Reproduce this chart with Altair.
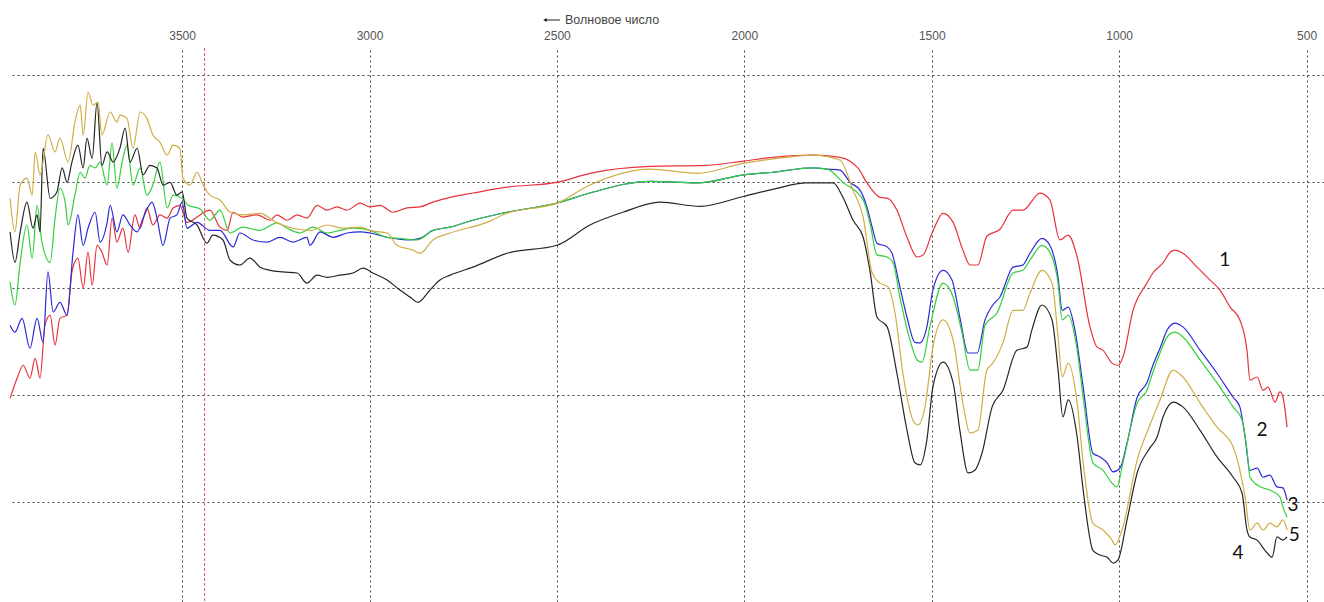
import altair as alt
import pandas as pd

# IR spectra of five samples: wavenumber (cm-1) and transmittance (arb. units)
wn_1 = [3959, 3940, 3924, 3906, 3892, 3879, 3866, 3852, 3839, 3826, 3807, 3794, 3778, 3764, 3751, 3740, 3727, 3714, 3700, 3687,
        3674, 3658, 3644, 3626, 3612, 3594, 3578, 3559, 3540, 3524, 3506, 3487, 3460, 3442, 3426, 3399, 3380, 3364, 3338, 3300,
        3265, 3247, 3220, 3193, 3167, 3140, 3113, 3087, 3060, 3025, 2999, 2972, 2937, 2900, 2865, 2831, 2785, 2724, 2633, 2500,
        2412, 2252, 2100, 2001, 1924, 1817, 1745, 1697, 1673, 1638, 1617, 1593, 1566, 1539, 1523, 1499, 1470, 1443, 1417, 1398,
        1377, 1353, 1318, 1283, 1257, 1211, 1185, 1158, 1136, 1112, 1078, 1059, 1043, 1019, 1003, 990, 963, 926, 910, 883,
        864, 851, 830, 792, 758, 731, 704, 678, 659, 651, 632, 616, 603, 584, 571, 563, 552]
t_1 = [39.4, 43.2, 45.6, 43.2, 46.9, 43.2, 53.1, 55.0, 49.4, 54.4, 55.0, 63.1, 65.7, 60.1, 66.8, 60.6, 68.1, 66.8, 64.4, 73.2,
       68.7, 71.3, 66.8, 73.8, 71.3, 75.1, 71.9, 73.8, 73.2, 75.1, 75.6, 72.4, 73.4, 74.3, 74.7, 71.5, 70.9, 74.3, 73.4, 73.8,
       72.8, 73.8, 72.8, 73.8, 73.2, 75.6, 74.7, 75.3, 74.7, 76.0, 75.3, 75.6, 74.3, 75.1, 75.3, 76.2, 77.1, 77.9, 79.0, 79.9,
       81.6, 82.9, 83.1, 83.9, 84.6, 85.0, 84.6, 82.6, 79.8, 77.1, 76.9, 74.7, 69.6, 65.9, 66.3, 70.4, 74.1, 72.4, 67.2, 64.4,
       64.4, 69.8, 71.1, 74.7, 74.7, 77.9, 76.6, 69.1, 70.0, 65.9, 52.8, 49.0, 48.4, 46.0, 45.6, 47.1, 55.9, 61.0, 62.9, 64.8,
       66.8, 67.2, 66.6, 64.0, 61.6, 59.7, 56.5, 54.1, 48.4, 42.8, 43.4, 40.9, 41.5, 38.7, 40.6, 39.6, 34.0]

wn_2 = [3959, 3946, 3927, 3906, 3887, 3871, 3858, 3844, 3826, 3807, 3791, 3778, 3764, 3751, 3732, 3719, 3700, 3692, 3674, 3658,
        3639, 3620, 3604, 3580, 3567, 3551, 3532, 3514, 3500, 3487, 3460, 3426, 3399, 3364, 3346, 3311, 3273, 3239, 3204, 3167,
        3159, 3132, 3097, 3060, 3025, 2999, 2953, 2900, 2865, 2831, 2785, 2724, 2633, 2500, 2412, 2252, 2126, 2001, 1924, 1817,
        1779, 1745, 1718, 1691, 1673, 1659, 1646, 1619, 1606, 1585, 1566, 1545, 1531, 1513, 1497, 1470, 1446, 1425, 1403, 1379,
        1358, 1337, 1318, 1283, 1257, 1238, 1206, 1185, 1163, 1152, 1136, 1118, 1096, 1070, 1051, 1032, 1016, 998, 979, 952,
        926, 910, 891, 872, 851, 830, 784, 739, 696, 678, 664, 651, 632, 616, 598, 579, 563, 552]
t_2 = [53.1, 51.8, 54.4, 48.8, 54.4, 49.9, 63.1, 55.6, 57.4, 55.0, 66.8, 73.8, 68.1, 71.3, 74.3, 68.7, 72.4, 75.6, 70.6, 73.8,
       71.9, 70.6, 73.2, 76.2, 73.2, 68.1, 73.2, 73.8, 76.2, 71.3, 72.4, 70.9, 70.9, 67.8, 70.4, 69.1, 68.7, 69.6, 68.7, 69.6,
       68.1, 70.6, 69.6, 70.4, 70.6, 70.4, 69.6, 69.1, 69.4, 70.9, 71.5, 72.8, 74.3, 76.0, 77.9, 80.1, 79.8, 81.3, 81.8, 82.6,
       82.4, 82.2, 79.9, 78.4, 75.3, 71.5, 68.5, 67.8, 66.6, 60.3, 54.6, 49.9, 49.8, 52.8, 59.7, 63.4, 61.6, 54.6, 47.9, 47.9,
       54.1, 56.9, 58.4, 64.0, 64.4, 66.6, 69.4, 68.1, 62.1, 55.9, 56.5, 52.2, 41.5, 29.1, 28.4, 27.3, 25.6, 26.3, 31.0, 39.6,
       42.3, 45.6, 48.8, 52.2, 53.5, 52.8, 48.4, 44.1, 39.6, 37.8, 32.1, 25.9, 26.3, 24.6, 25.0, 22.8, 22.6, 20.3]

wn_3 = [3959, 3946, 3932, 3914, 3900, 3887, 3874, 3852, 3839, 3826, 3812, 3804, 3786, 3772, 3759, 3746, 3732, 3719, 3700, 3687,
        3674, 3660, 3647, 3631, 3612, 3594, 3578, 3559, 3540, 3524, 3500, 3484, 3452, 3426, 3399, 3372, 3338, 3292, 3247, 3220,
        3185, 3151, 3113, 3079, 3044, 2999, 2953, 2919, 2873, 2831, 2785, 2724, 2633, 2500, 2412, 2252, 2126, 2001, 1924, 1817,
        1779, 1737, 1683, 1665, 1646, 1619, 1603, 1585, 1558, 1539, 1526, 1505, 1470, 1443, 1419, 1398, 1377, 1358, 1326, 1283,
        1257, 1238, 1206, 1185, 1163, 1152, 1136, 1112, 1096, 1070, 1043, 1019, 1006, 990, 952, 926, 910, 891, 872, 851,
        830, 784, 739, 696, 672, 659, 651, 624, 598, 571, 563, 552]
t_3 = [61.2, 56.9, 64.9, 71.9, 65.7, 75.6, 68.7, 64.9, 73.2, 78.8, 76.2, 71.9, 77.5, 81.8, 80.7, 83.1, 82.6, 83.7, 79.4, 87.3,
       78.8, 83.7, 86.9, 79.4, 82.6, 77.5, 79.4, 83.7, 75.1, 77.5, 76.9, 75.6, 74.9, 72.8, 74.7, 70.4, 71.5, 70.9, 72.3, 71.3,
       70.4, 71.5, 70.4, 70.9, 71.3, 70.9, 69.6, 69.4, 69.1, 70.9, 71.5, 72.8, 74.3, 76.0, 77.9, 80.1, 79.8, 81.3, 81.8, 82.6,
       82.4, 79.9, 76.6, 72.3, 66.3, 65.9, 64.8, 58.4, 50.3, 46.6, 46.2, 52.8, 61.0, 58.4, 51.6, 44.7, 44.7, 53.1, 55.4, 62.9,
       63.4, 65.3, 68.1, 66.8, 61.0, 54.1, 55.0, 48.4, 39.6, 27.3, 25.9, 23.5, 22.8, 27.3, 38.5, 40.9, 44.3, 47.9, 50.9, 51.8,
       50.9, 46.6, 42.3, 37.8, 35.3, 29.7, 24.6, 22.8, 22.2, 20.9, 19.0, 17.1]

wn_4 = [3959, 3946, 3932, 3914, 3898, 3887, 3879, 3871, 3852, 3834, 3820, 3807, 3794, 3778, 3764, 3754, 3740, 3727, 3714, 3700,
        3684, 3666, 3652, 3639, 3620, 3604, 3586, 3567, 3551, 3532, 3514, 3500, 3487, 3460, 3434, 3418, 3391, 3372, 3346, 3319,
        3292, 3265, 3231, 3193, 3167, 3140, 3113, 3079, 3044, 3017, 2991, 2953, 2919, 2892, 2871, 2839, 2812, 2785, 2724, 2633,
        2500, 2412, 2324, 2225, 2118, 2001, 1924, 1833, 1763, 1737, 1710, 1683, 1665, 1646, 1619, 1593, 1566, 1545, 1531, 1513,
        1497, 1470, 1443, 1425, 1403, 1385, 1366, 1339, 1310, 1273, 1246, 1233, 1206, 1179, 1163, 1150, 1136, 1112, 1096, 1070,
        1051, 1032, 1016, 1003, 979, 952, 918, 899, 883, 856, 830, 784, 739, 696, 672, 659, 651, 632, 611, 592,
        579, 563, 552]
t_4 = [70.6, 64.9, 70.6, 76.2, 71.3, 73.8, 70.6, 86.3, 76.9, 78.1, 82.6, 79.9, 83.7, 86.9, 82.6, 88.2, 84.4, 94.9, 83.1, 85.6,
       83.7, 86.3, 90.1, 83.7, 86.3, 81.3, 83.1, 82.6, 79.4, 79.9, 77.5, 78.1, 73.2, 71.9, 68.5, 70.0, 69.1, 65.3, 64.4, 65.7,
       64.0, 63.4, 63.1, 62.9, 61.0, 62.5, 62.1, 62.5, 62.9, 63.8, 62.9, 61.6, 59.7, 58.4, 57.4, 59.7, 61.6, 62.5, 64.0, 66.6,
       68.1, 71.9, 74.3, 76.2, 75.4, 77.3, 78.6, 79.8, 79.8, 77.1, 72.8, 69.6, 63.4, 54.6, 52.8, 44.1, 33.4, 27.3, 26.9, 31.6,
       41.5, 46.2, 42.3, 33.4, 25.4, 25.9, 29.1, 37.8, 40.9, 48.4, 49.0, 52.2, 56.9, 54.1, 44.7, 35.9, 39.1, 32.1, 22.2, 10.9,
       10.0, 9.6, 8.5, 9.1, 16.6, 25.4, 30.1, 32.1, 35.9, 38.7, 37.8, 33.4, 28.4, 24.6, 21.6, 14.7, 13.4, 12.8, 10.9, 9.6,
       13.4, 12.8, 13.4]

wn_5 = [3959, 3946, 3932, 3914, 3900, 3892, 3879, 3858, 3839, 3826, 3804, 3786, 3772, 3764, 3751, 3738, 3724, 3714, 3692, 3674,
        3666, 3647, 3631, 3612, 3594, 3578, 3559, 3540, 3524, 3506, 3498, 3479, 3460, 3444, 3426, 3399, 3372, 3338, 3292, 3247,
        3204, 3159, 3113, 3071, 3025, 2999, 2953, 2927, 2884, 2865, 2831, 2785, 2687, 2633, 2500, 2412, 2252, 2126, 2001, 1924,
        1817, 1745, 1710, 1683, 1659, 1638, 1617, 1598, 1577, 1550, 1537, 1518, 1497, 1470, 1443, 1417, 1398, 1377, 1353, 1337,
        1310, 1283, 1257, 1238, 1206, 1179, 1163, 1152, 1136, 1112, 1096, 1070, 1043, 1019, 1011, 990, 952, 918, 891, 856,
        830, 784, 739, 696, 678, 664, 651, 632, 616, 598, 579, 563, 552]
t_5 = [76.9, 70.6, 79.4, 80.7, 77.5, 85.6, 81.3, 88.8, 85.6, 88.2, 83.7, 91.2, 94.4, 88.8, 96.8, 94.4, 94.9, 88.8, 93.1, 91.2,
       92.5, 91.9, 86.3, 93.1, 91.9, 88.8, 87.4, 85.0, 86.9, 86.3, 80.7, 79.4, 81.8, 79.4, 77.5, 76.6, 74.3, 73.8, 74.1, 72.3,
       71.3, 70.9, 71.9, 71.3, 71.5, 70.9, 70.4, 68.1, 67.2, 66.6, 69.1, 70.4, 72.4, 74.1, 76.0, 79.4, 82.4, 81.6, 83.5, 84.3,
       85.0, 84.1, 78.4, 73.4, 62.9, 61.0, 60.3, 55.4, 44.1, 35.3, 34.4, 37.8, 49.0, 54.1, 50.3, 38.5, 32.9, 33.4, 44.7, 46.0,
       49.8, 55.9, 55.9, 59.1, 63.4, 61.0, 50.9, 43.4, 46.0, 38.5, 27.3, 16.0, 14.7, 12.8, 11.9, 15.3, 27.8, 34.4, 39.1, 44.7,
       43.4, 38.5, 34.0, 30.3, 25.9, 20.9, 14.7, 16.0, 14.7, 16.0, 15.3, 16.6, 14.7]

samples = ["1", "2", "3", "4", "5"]
colors = ["#e8323c", "#2a2ad8", "#33cf3c", "#262626", "#cfae45"]

# Curve number labels placed next to the right-hand ends
label_text = ["1", "2", "3", "4", "5"]
label_wn = [718, 619, 536, 683, 533]
label_t = [65.3, 33.4, 19.4, 10.4, 13.8]

x_ticks = [3500, 3000, 2500, 2000, 1500, 1000, 500]
y_grid = [20, 40, 60, 80, 100]
marker_wn = [3440]

rows = []
for s, wns, ts in zip(samples, [wn_1, wn_2, wn_3, wn_4, wn_5], [t_1, t_2, t_3, t_4, t_5]):
    for w, t in zip(wns, ts):
        rows.append({"sample": s, "wn": w, "t": t})
spectra = pd.DataFrame(rows)
labels = pd.DataFrame({"wn": label_wn, "t": label_t, "text": label_text})
marker = pd.DataFrame({"wn": marker_wn})

x_scale = alt.Scale(domain=[453.5, 3959.2], reverse=True, nice=False, zero=False)
y_scale = alt.Scale(domain=[1.2, 105.1], nice=False, zero=False)

x_axis = alt.Axis(orient="top", values=x_ticks, format="d", ticks=False, domain=False,
                  labelPadding=6, labelFontSize=12, labelFont="Liberation Sans", labelColor="#555555",
                  grid=True, gridColor="#444444", gridDash=[2, 3], gridWidth=1, title="")
y_axis = alt.Axis(values=y_grid, labels=False, ticks=False, domain=False,
                  grid=True, gridColor="#444444", gridDash=[2, 3], gridWidth=1, title="")

lines = alt.Chart(spectra).mark_line(strokeWidth=1.2, interpolate="monotone").encode(
    x=alt.X("wn:Q", scale=x_scale, axis=x_axis),
    y=alt.Y("t:Q", scale=y_scale, axis=y_axis),
    color=alt.Color("sample:N", scale=alt.Scale(domain=samples, range=colors), legend=None),
)

marker_rule = alt.Chart(marker).mark_rule(color="#e0506a", strokeDash=[3, 2], strokeWidth=1).encode(
    x=alt.X("wn:Q", scale=x_scale)
)

number_labels = alt.Chart(labels).mark_text(fontSize=19, font="Lato", color="#111111").encode(
    x=alt.X("wn:Q", scale=x_scale),
    y=alt.Y("t:Q", scale=y_scale),
    text="text:N",
)

one = pd.DataFrame({"k": [0]})
axis_name = alt.Chart(one).mark_text(
    text="Волновое число", fontSize=12.5, font="Liberation Sans", color="#444444", align="left", baseline="middle"
).encode(x=alt.value(555), y=alt.value(-28))
arrow_shaft = alt.Chart(one).mark_rule(color="#222222", strokeWidth=1).encode(
    x=alt.value(535), x2=alt.value(550), y=alt.value(-28)
)
arrow_head = alt.Chart(one).mark_point(shape="triangle-left", filled=True, size=16, color="#222222", opacity=1).encode(
    x=alt.value(535), y=alt.value(-28)
)

chart = alt.layer(lines, marker_rule, number_labels, axis_name, arrow_shaft, arrow_head).properties(
    width=1314, height=554, autosize="none",
    padding={"left": 10, "top": 48, "right": 0, "bottom": 0},
    background="white",
).configure_view(stroke="transparent")

chart.save("out.html", embed_options={"renderer": "svg", "actions": False})
